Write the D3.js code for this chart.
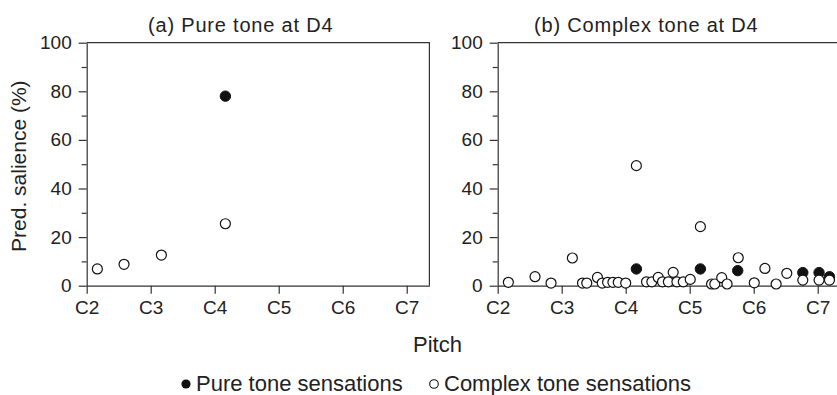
<!DOCTYPE html>
<html>
<head>
<meta charset="utf-8">
<script src="https://cdn.jsdelivr.net/npm/d3@7"></script>
<style>
  html, body { margin: 0; padding: 0; background: #fff; }
  svg { display: block; }
  text { font-family: "Liberation Sans", Arial, Helvetica, sans-serif; fill: #222; }
</style>
</head>
<body>
<svg id="chart" width="837" height="395"></svg>
<script>
// ---- data (pitch as MIDI note number, salience in %) ----
const noteTicks = [36, 48, 60, 72, 84, 96];
const noteLabels = ["C2", "C3", "C4", "C5", "C6", "C7"];
const yMajorTicks = [0, 20, 40, 60, 80, 100];
const yMinorTicks = [10, 30, 50, 70, 90];

const pureA_pitch = [62];
const pureA_sal = [78];
const complexA_pitch = [38, 43, 50, 62];
const complexA_sal = [6.9, 8.8, 12.6, 25.5];

const pureB_pitch = [62, 74, 81, 93.2, 96.25, 98.2];
const pureB_sal = [6.9, 6.9, 6.2, 5.4, 5.4, 3.7];
const complexB_pitch = [38, 43, 46, 50, 51.9, 52.7, 54.7, 55.6, 56.6, 57.6, 58.6, 60,
  62, 63.9, 64.9, 66.1, 66.9, 68, 68.9, 69.6, 70.8, 72.1, 74, 76.1, 76.7, 78, 79,
  81.1, 84.1, 86.1, 88.2, 90.2, 93.2, 96.25, 98.2];
const complexB_sal = [1.4, 3.7, 1.1, 11.4, 1.1, 1.1, 3.4, 1.1, 1.4, 1.4, 1.4, 1.1,
  49.4, 1.6, 1.6, 3.4, 1.6, 1.6, 5.5, 1.6, 1.6, 2.6, 24.3, 0.7, 0.7, 3.3, 0.7,
  11.5, 1.2, 7.1, 0.7, 5.1, 2.3, 2.3, 2.3];

const titles = ["(a) Pure tone at D4", "(b) Complex tone at D4"];
const yLabel = "Pred. salience (%)";
const xLabel = "Pitch";
const legendLabels = ["Pure tone sensations", "Complex tone sensations"];

// ---- layout ----
const svg = d3.select("#chart");
const plotTop = 42.7, plotBottom = 285.7;
const plotW = 342.7;
const panelLeft = [86.7, 497.7];
const titleX = [240.7, 646.3];
const lineColor = "#333";

const y = d3.scaleLinear().domain([0, 100]).range([plotBottom, plotTop]);

function zip(a, b) { return a.map((v, i) => [v, b[i]]); }
const panels = [
  { pure: zip(pureA_pitch, pureA_sal), complex: zip(complexA_pitch, complexA_sal) },
  { pure: zip(pureB_pitch, pureB_sal), complex: zip(complexB_pitch, complexB_sal) }
];

panels.forEach((p, i) => {
  const left = panelLeft[i];
  const x = d3.scaleLinear().domain([36, 100.25]).range([left, left + plotW]);
  const g = svg.append("g");

  g.append("path")
    .attr("d", `M${left},${plotTop}H${left + plotW}V${plotBottom}`)
    .attr("fill", "none").attr("stroke", lineColor).attr("stroke-width", 1.2);

  g.append("g").attr("transform", `translate(${left},0)`)
    .call(d3.axisLeft(y).tickValues(yMajorTicks).tickSize(8).tickPadding(7).tickSizeOuter(0));
  g.append("g").attr("transform", `translate(${left},0)`)
    .call(d3.axisLeft(y).tickValues(yMinorTicks).tickSize(5).tickFormat("").tickSizeOuter(0))
    .select(".domain").remove();

  g.append("g").attr("transform", `translate(0,${plotBottom})`)
    .call(d3.axisBottom(x).tickValues(noteTicks).tickSize(8).tickPadding(7).tickSizeOuter(0)
      .tickFormat((d, k) => noteLabels[k]));

  g.selectAll(".domain, .tick line").attr("stroke", lineColor).attr("stroke-width", 1.2);
  g.selectAll(".tick text").attr("font-size", 19).attr("fill", "#222")
    .attr("font-family", '"Liberation Sans", Arial, sans-serif');

  g.append("text").attr("x", titleX[i]).attr("y", 32)
    .attr("text-anchor", "middle").attr("font-size", 20).attr("letter-spacing", 0.8)
    .text(titles[i]);

  g.selectAll("circle.pure").data(p.pure).join("circle").attr("class", "pure")
    .attr("cx", d => x(d[0])).attr("cy", d => y(d[1])).attr("r", 5.2)
    .attr("fill", "#111").attr("stroke", "#111").attr("stroke-width", 1);
  g.selectAll("circle.complex").data(p.complex).join("circle").attr("class", "complex")
    .attr("cx", d => x(d[0])).attr("cy", d => y(d[1])).attr("r", 5)
    .attr("fill", "#fff").attr("stroke", "#111").attr("stroke-width", 1.2);
});

svg.append("text").attr("transform", `translate(26,${(plotTop + plotBottom) / 2 + 2}) rotate(-90)`)
  .attr("text-anchor", "middle").attr("font-size", 21).text(yLabel);
svg.append("text").attr("x", 437.5).attr("y", 352)
  .attr("text-anchor", "middle").attr("font-size", 22).text(xLabel);

const leg = svg.append("g");
const t1 = leg.append("text").attr("x", 402.7).attr("y", 391).attr("text-anchor", "end")
  .attr("font-size", 22).text(legendLabels[0]);
const t1Start = 402.7 - t1.node().getComputedTextLength();
leg.append("circle").attr("cx", t1Start - 10).attr("cy", 384).attr("r", 4.6).attr("fill", "#111");
leg.append("circle").attr("cx", 434).attr("cy", 384).attr("r", 4.3)
  .attr("fill", "#fff").attr("stroke", "#111").attr("stroke-width", 1.1);
leg.append("text").attr("x", 444).attr("y", 391).attr("font-size", 22).text(legendLabels[1]);
</script>
</body>
</html>
